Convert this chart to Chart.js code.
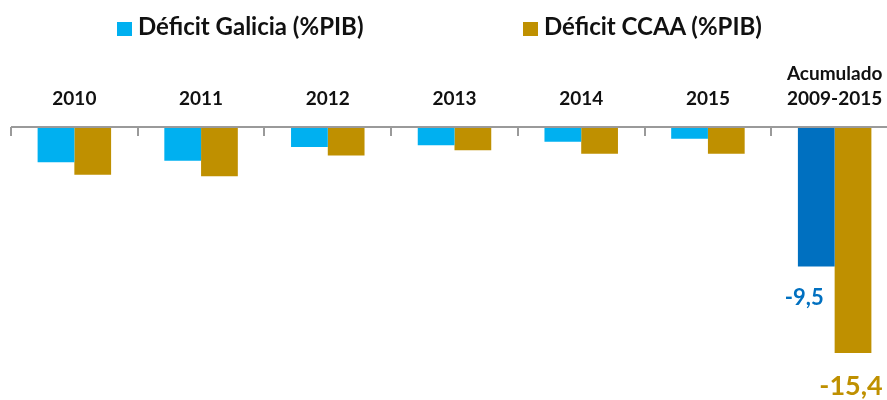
<!DOCTYPE html>
<html>
<head>
<meta charset="utf-8">
<script src="https://cdn.jsdelivr.net/npm/chart.js@4.4.1/dist/chart.umd.min.js"></script>
<style>
  html, body { margin: 0; padding: 0; background: #fff; overflow: hidden; }
  #wrap { position: relative; width: 910px; height: 400px; }
  #legend { position: absolute; left: 0; top: 0; width: 887px; height: 60px; font-family: Lato, "Open Sans", sans-serif; font-weight: 700; font-size: 24px; color: #111; }
  .item { position: absolute; top: 12px; white-space: nowrap; line-height: 28px; }
  .sw { display: inline-block; width: 15px; height: 14px; margin-right: 6px; vertical-align: -1px; }
</style>
</head>
<body>
<div id="wrap">
  <canvas id="c" width="910" height="400"></canvas>
  <div id="legend"></div>
</div>
<script>
const categories = ['2010', '2011', '2012', '2013', '2014', '2015', ['Acumulado', '2009-2015']];
const seriesNames = ['Déficit Galicia (%PIB)', 'Déficit CCAA (%PIB)'];
const galicia = [-2.4, -2.3, -1.36, -1.25, -1.0, -0.8, -9.5];
const ccaa = [-3.25, -3.36, -1.95, -1.59, -1.82, -1.82, -15.4];

const colGal = '#00B0F0', colGalAcc = '#0070C0', colCcaa = '#BF9000';
const lastIdx = categories.length - 1;

// HTML legend
const legendEl = document.getElementById('legend');
const legendPos = [117, 523];
[[seriesNames[0], colGal], [seriesNames[1], colCcaa]].forEach((it, i) => {
  const d = document.createElement('div');
  d.className = 'item';
  d.style.left = legendPos[i] + 'px';
  d.innerHTML = '<span class="sw" style="background:' + it[1] + '"></span>' + it[0];
  legendEl.appendChild(d);
});

const fmt = v => String(v).replace('.', ',');

const extras = {
  id: 'extras',
  afterDatasetsDraw(chart) {
    const ctx = chart.ctx;
    const xs = chart.scales.x;
    const area = chart.chartArea;
    const n = categories.length;
    const w = (area.right - area.left) / n;
    ctx.save();
    // axis line
    ctx.strokeStyle = '#9a9a9a';
    ctx.lineWidth = 2;
    ctx.beginPath();
    ctx.moveTo(area.left, area.top);
    ctx.lineTo(area.right, area.top);
    ctx.stroke();
    // downward tick marks at category boundaries
    for (let i = 0; i <= n; i++) {
      const x = Math.round(xs.getPixelForValue(i) - w / 2);
      ctx.beginPath();
      ctx.moveTo(x, area.top);
      ctx.lineTo(x, area.top + 9);
      ctx.stroke();
    }
    // value labels for accumulated bars
    const b0 = chart.getDatasetMeta(0).data[lastIdx];
    const b1 = chart.getDatasetMeta(1).data[lastIdx];
    ctx.textAlign = 'center';
    ctx.textBaseline = 'middle';
    ctx.font = 'bold 22px Lato, sans-serif';
    ctx.fillStyle = colGalAcc;
    ctx.fillText(fmt(galicia[lastIdx]), b0.x - 12, b0.y + 31);
    ctx.font = 'bold 27px Lato, sans-serif';
    ctx.fillStyle = colCcaa;
    ctx.fillText(fmt(ccaa[lastIdx]), b1.x - 2, b1.y + 33);
    ctx.restore();
  }
};

new Chart(document.getElementById('c'), {
  type: 'bar',
  data: {
    labels: categories,
    datasets: [
      {
        label: seriesNames[0],
        data: galicia,
        backgroundColor: galicia.map((v, i) => i === lastIdx ? colGalAcc : colGal),
        borderWidth: 0
      },
      {
        label: seriesNames[1],
        data: ccaa,
        backgroundColor: colCcaa,
        borderWidth: 0
      }
    ]
  },
  options: {
    responsive: false,
    animation: false,
    events: [],
    layout: { padding: { left: 11, right: 12, top: 0, bottom: 0 } },
    plugins: { legend: { display: false }, tooltip: { enabled: false } },
    datasets: { bar: { categoryPercentage: 0.58, barPercentage: 1.0 } },
    scales: {
      x: {
        position: 'top',
        grid: { display: false, drawTicks: false },
        border: { display: false },
        ticks: {
          color: '#111',
          padding: 15,
          maxRotation: 0,
          autoSkip: false,
          font: { family: 'Lato, sans-serif', weight: 'bold', size: 19, lineHeight: 1.35 }
        },
        afterFit: s => { s.height = 127; }
      },
      y: {
        display: false,
        min: -18.6,
        max: 0
      }
    }
  },
  plugins: [extras]
});
</script>
</body>
</html>
